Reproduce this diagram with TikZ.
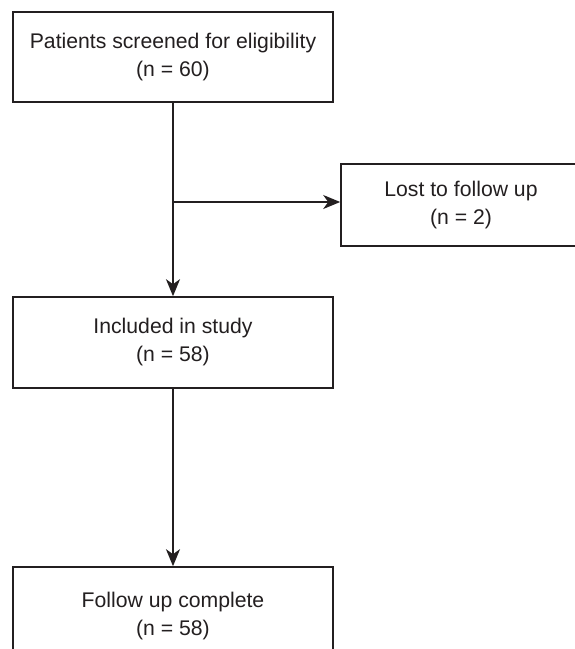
\documentclass[tikz,border=0pt]{standalone}
\usepackage{fontspec}
\setmainfont{Liberation Sans}
\usetikzlibrary{arrows.meta}
\definecolor{ink}{HTML}{231F20}
\begin{document}
\begin{tikzpicture}[x=1pt,y=-1pt,
  txt/.style={align=center,inner sep=0pt,font=\fontsize{21.2}{28}\selectfont,text=ink},
  box/.style={draw=ink,line width=1.6pt,rectangle,txt},
  conn/.style={draw=ink,line width=1.6pt,-{Stealth[length=17pt,width=14pt,inset=5pt]}}]
\useasboundingbox (0,0) rectangle (575,649);
\clip (0,0) rectangle (575,649);
\fill[white] (0,0) rectangle (575,649);
\node[box,minimum width=320pt,minimum height=90pt] (screen) at (173,57) {Patients screened for eligibility\\(n = 60)};
\node[box,minimum width=240pt,minimum height=82pt] (lost) at (461,205) {Lost to follow up\\(n = 2)};
\node[box,minimum width=320pt,minimum height=91pt] (incl) at (173,342.5) {Included in study\\(n = 58)};
\node[box,minimum width=320pt,minimum height=92pt] (fup) at (173,613) {};
\node[txt] (fuptext) at (173,616) {Follow up complete\\(n = 58)};
\coordinate (branch) at (173,202);
\draw[conn] (screen.south) -- (incl.north);
\draw[conn] (branch) -- (lost.west |- branch);
\draw[conn] (incl.south) -- (fup.north);
\end{tikzpicture}
\end{document}
